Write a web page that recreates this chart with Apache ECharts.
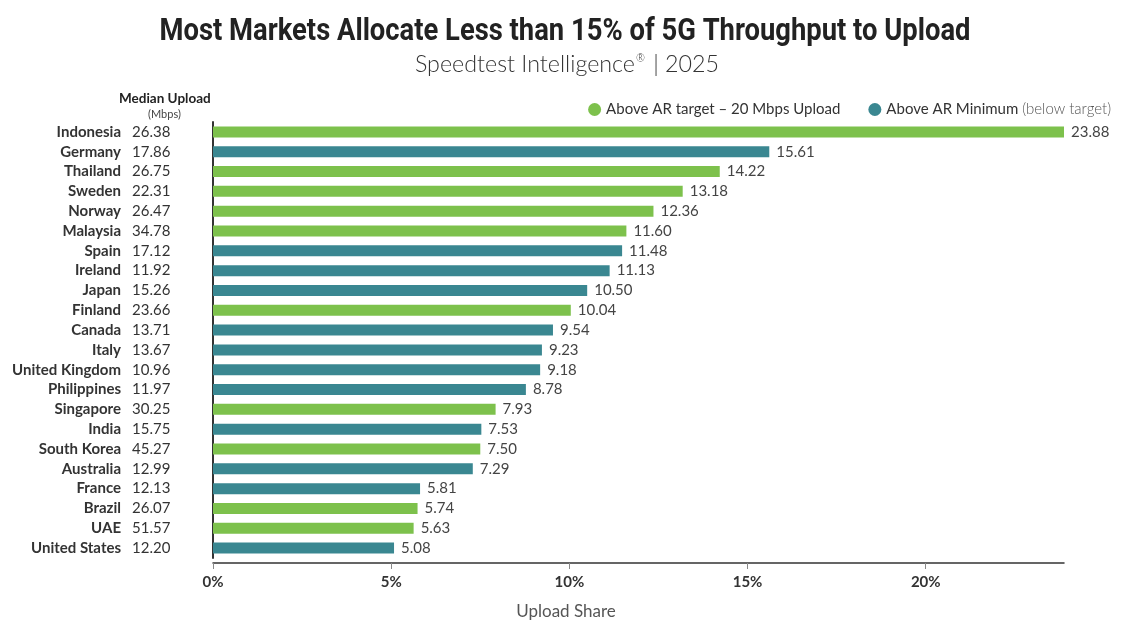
<!DOCTYPE html>
<html>
<head>
<meta charset="utf-8">
<title>5G Upload Share</title>
<script src="https://cdn.jsdelivr.net/npm/echarts@6/dist/echarts.min.js"></script>
<style>
    html, body { margin: 0; padding: 0; background: #fff; }
    #chart { width: 1126px; height: 632px; }
</style>
</head>
<body>
<div id="chart"></div>
<script>
    // data, top to bottom
    var countries = ["Indonesia", "Germany", "Thailand", "Sweden", "Norway", "Malaysia", "Spain", "Ireland",
        "Japan", "Finland", "Canada", "Italy", "United Kingdom", "Philippines", "Singapore", "India",
        "South Korea", "Australia", "France", "Brazil", "UAE", "United States"];
    var medianUpload = [26.38, 17.86, 26.75, 22.31, 26.47, 34.78, 17.12, 11.92, 15.26, 23.66, 13.71,
        13.67, 10.96, 11.97, 30.25, 15.75, 45.27, 12.99, 12.13, 26.07, 51.57, 12.20];
    var uploadShare = [23.88, 15.61, 14.22, 13.18, 12.36, 11.60, 11.48, 11.13, 10.50, 10.04, 9.54,
        9.23, 9.18, 8.78, 7.93, 7.53, 7.50, 7.29, 5.81, 5.74, 5.63, 5.08];
    var tickValues = [0, 5, 10, 15, 20];

    var TARGET = "Above AR target – 20 Mbps Upload";
    var MINIMUM = "Above AR Minimum (below target)";
    var GREEN = "#7dc14c";
    var TEAL = "#3a8791";
    var FONT = "Lato";

    // split into two stacked series so the legend gets one entry per group
    var aboveTarget = uploadShare.map(function(v, i) { return medianUpload[i] >= 20 ? v : '-'; });
    var belowTarget = uploadShare.map(function(v, i) { return medianUpload[i] >= 20 ? '-' : v; });

    var chart = echarts.init(document.getElementById('chart'));

    function barSeries(name, data, color) {
        return {
            name: name,
            type: 'bar',
            stack: 'share',
            yAxisIndex: 0,
            barWidth: 11,
            itemStyle: { color: color },
            label: {
                show: true,
                position: 'right',
                distance: 7,
                color: '#444',
                fontFamily: FONT,
                fontSize: 15,
                formatter: function(p) { return p.value.toFixed(2); }
            },
            data: data
        };
    }

    var option = {
        animation: false,
        textStyle: { fontFamily: FONT },
        legend: {
            top: 97,
            right: 10,
            icon: 'circle',
            itemWidth: 13,
            itemHeight: 13,
            itemGap: 28,
            textStyle: {
                fontFamily: FONT,
                fontSize: 15,
                color: '#333',
                rich: {
                    m: { fontFamily: FONT, fontSize: 15, color: '#333' },
                    s: { fontFamily: FONT, fontSize: 15, color: '#555', fontWeight: 300 }
                }
            },
            formatter: function(name) {
                if (name === MINIMUM) return '{m|Above AR Minimum} {s|(below target)}';
                return name;
            },
            data: [TARGET, MINIMUM]
        },
        graphic: [{
            // condensed headline: bold Roboto squeezed horizontally
            type: 'text',
            x: 565,
            y: 17,
            scaleX: 0.883,
            style: {
                text: 'Most Markets Allocate Less than 15% of 5G Throughput to Upload',
                textAlign: 'center',
                font: 'bold 31px Roboto',
                fill: '#222'
            }
        }, {
            type: 'text',
            x: 567,
            y: 52,
            scaleX: 0.97,
            style: {
                text: 'Speedtest Intelligence{r|®} | 2025',
                textAlign: 'center',
                font: '300 24px Lato',
                fill: '#333',
                rich: { r: { font: '300 11px Lato', fill: '#333', padding: [0, 2, 12, 1] } }
            }
        }, {
            type: 'text',
            left: 119,
            top: 92,
            style: { text: 'Median Upload', font: 'bold 13.5px Lato', fill: '#222' }
        }, {
            type: 'text',
            left: 148,
            top: 109,
            style: { text: '(Mbps)', font: '11px Lato', fill: '#444' }
        }, {
            type: 'text',
            x: 566,
            y: 603,
            style: { text: 'Upload Share', textAlign: 'center', font: '17px Lato', fill: '#555' }
        }],
        grid: { left: 213, right: 62, top: 122, height: 436 },
        xAxis: {
            type: 'value',
            min: 0,
            max: 23.88,
            interval: 5,
            offset: 5,
            splitLine: { show: false },
            axisLine: { show: true, lineStyle: { color: '#333', width: 1.5 } },
            axisTick: { show: true, length: 6, lineStyle: { color: '#888' }, customValues: tickValues },
            axisLabel: {
                color: '#333',
                fontFamily: FONT,
                fontWeight: 'bold',
                fontSize: 15,
                margin: 12,
                customValues: tickValues,
                formatter: '{value}%'
            }
        },
        yAxis: [{
            type: 'category',
            inverse: true,
            data: countries,
            axisLine: { show: true, lineStyle: { color: '#333', width: 2 } },
            axisTick: { show: false },
            axisLabel: {
                interval: 0,
                margin: 92,
                color: '#333',
                fontFamily: FONT,
                fontWeight: 'bold',
                fontSize: 15
            }
        }, {
            type: 'category',
            inverse: true,
            position: 'left',
            data: medianUpload.map(function(v) { return v.toFixed(2); }),
            axisLine: { show: false },
            axisTick: { show: false },
            axisLabel: {
                interval: 0,
                margin: 81,
                align: 'left',
                color: '#333',
                fontFamily: FONT,
                fontSize: 15
            }
        }],
        series: [
            barSeries(TARGET, aboveTarget, GREEN),
            barSeries(MINIMUM, belowTarget, TEAL)
        ]
    };

    chart.setOption(option);
</script>
</body>
</html>
